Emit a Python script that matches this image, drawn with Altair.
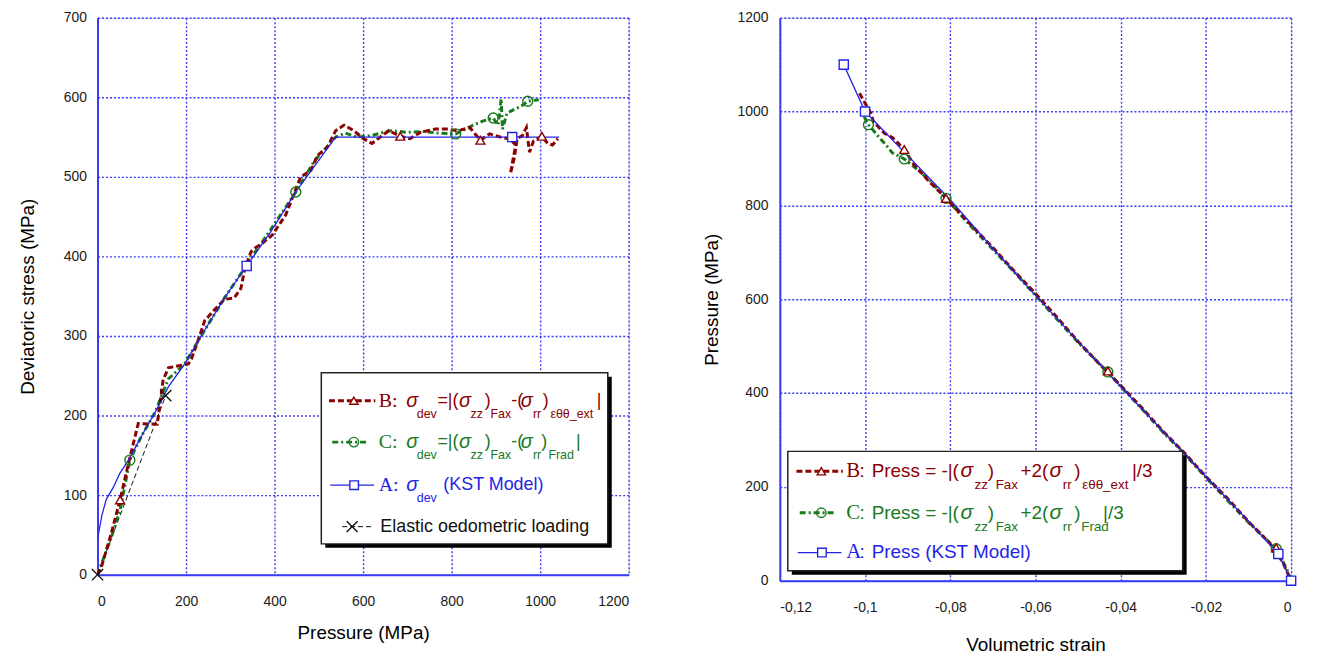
import altair as alt
import pandas as pd

# ---------------- LEFT PANEL DATA : Pressure (MPa) vs Deviatoric stress (MPa) -------------
B_left_p = [0, 10, 30, 51, 70, 81, 92, 135, 148, 160, 205, 212, 227, 242, 264, 287, 309, 324, 333,
            347, 354, 369, 395, 425, 459, 482, 497, 519, 538, 557, 579, 601, 620, 658, 684, 706,
            730, 763, 789, 815, 841, 865, 886, 916, 930, 945, 938, 933, 942, 948, 960, 969, 976,
            985, 1004, 1017, 1028, 1040]
B_left_dev = [0, 12, 50, 94, 140, 165, 190, 189, 244, 260, 265, 271, 294, 319, 333, 346, 348, 360, 385,
              406, 410, 415, 427, 452, 500, 508, 527, 537, 558, 565, 558, 548, 542, 558, 551, 548,
              556, 560, 560, 558, 562, 546, 554, 549, 548, 540, 520, 504, 525, 548, 552, 562, 531,
              545, 551, 542, 540, 548]
B_left_mark_p = [51, 684, 865, 1004]
B_left_mark_dev = [94, 551, 546, 551]

C_left_p = [0, 10, 30, 51, 73, 100, 130, 160, 197, 234, 287, 332, 337, 388, 448, 490, 538, 560, 586,
            620, 661, 700, 736, 770, 809, 849, 870, 894, 905, 912, 915, 925, 942, 955, 972, 997]
C_left_dev = [0, 15, 45, 81, 144, 175, 204, 246, 265, 300, 348, 385, 390, 431, 481, 520, 550, 555, 550,
              552, 558, 556, 557, 555, 554, 565, 570, 574, 565, 598, 560, 580, 585, 588, 595, 597]
C_left_mark_p = [73, 448, 809, 894, 972]
C_left_mark_dev = [144, 481, 554, 574, 595]

A_left_p = [0, 10, 20, 36, 50, 70, 100, 130, 160, 197, 234, 287, 337, 390, 448, 538, 937, 1043]
A_left_dev = [45, 75, 95, 110, 127, 144, 175, 204, 236, 265, 300, 348, 388, 430, 481, 550, 550, 550]
A_left_mark_p = [337, 937]
A_left_mark_dev = [388, 550]

E_left_p = [0, 154]
E_left_dev = [0, 225]

# ---------------- RIGHT PANEL DATA : Volumetric strain vs Pressure (MPa) -------------
A_right_eps = [-0.105, -0.1, -0.09, -0.08, -0.07, -0.06, -0.05, -0.04, -0.03, -0.02, -0.01, -0.003, 0]
A_right_p = [1100, 1000, 906, 812, 708, 608, 510, 414, 318, 222, 127, 57, 0]
A_right_mark_eps = [-0.105, -0.1, -0.003, 0]
A_right_mark_p = [1100, 1000, 57, 0]

B_right_eps = [-0.1013, -0.1002, -0.0986, -0.098, -0.0955, -0.0936, -0.0908, -0.0885, -0.0854, -0.081,
               -0.075, -0.07, -0.065, -0.06, -0.055, -0.05, -0.045, -0.04, -0.035, -0.03, -0.025,
               -0.02, -0.015, -0.01, -0.005, -0.002, 0]
B_right_p = [1039, 1021, 996, 978, 954, 945, 919, 887, 855, 815,
             757, 710, 660, 612, 562, 510, 462, 416, 368, 318, 272,
             222, 176, 126, 80, 40, 0]
B_right_mark_eps = [-0.0908, -0.081, -0.043, -0.0035]
B_right_mark_p = [919, 815, 447, 70]

C_right_eps = [-0.1002, -0.0992, -0.0978, -0.0967, -0.0951, -0.0936, -0.0908, -0.0877, -0.085, -0.081,
               -0.075, -0.07, -0.065, -0.06, -0.055, -0.05, -0.043, -0.04, -0.035, -0.03, -0.025,
               -0.02, -0.015, -0.01, -0.0035, -0.001, 0]
C_right_p = [989, 972, 957, 945, 929, 912, 899, 876, 855, 815,
             754, 706, 658, 608, 558, 508, 445, 414, 366, 316, 270,
             220, 172, 124, 68, 25, 0]
C_right_mark_eps = [-0.0992, -0.0908, -0.081, -0.043, -0.0035]
C_right_mark_p = [972, 899, 815, 445, 68]

# ---------------- styles ----------------
RED = "#8b0000"
GREEN = "#187a1c"
BLUE = "#2424e6"
GRID = "#3b3bf5"
FONT = "Liberation Sans"
SERIF = "Liberation Serif"


def frame(xs, ys):
    return pd.DataFrame({"x": xs, "y": ys, "i": list(range(len(xs)))})


def line(d, xe, ye, color, width, dash=None):
    kw = dict(color=color, strokeWidth=width, clip=True)
    if dash:
        kw["strokeDash"] = dash
    return alt.Chart(d).mark_line(**kw).encode(x=xe, y=ye, order="i:Q")


def marks(d, xe, ye, shape, color, size, fill=None):
    kw = dict(shape=shape, size=size, stroke=color, strokeWidth=1.4, opacity=1)
    if fill:
        kw.update(filled=True, fill=fill)
    else:
        kw.update(filled=False)
    return alt.Chart(d).mark_point(**kw).encode(x=xe, y=ye)


ONE = alt.Data(values=[{"k": 0}])


def txt(t, x, y, color, size, font=FONT, style="normal"):
    return alt.Chart(ONE).mark_text(align="left", baseline="middle", font=font, fontSize=size,
                                    color=color, fontStyle=style).encode(
        x=alt.value(x), y=alt.value(y), text=alt.value(t))


def seg(x1, x2, y, color, width, dash=None):
    kw = dict(color=color, strokeWidth=width)
    if dash:
        kw["strokeDash"] = dash
    return alt.Chart(ONE).mark_rule(**kw).encode(x=alt.value(x1), x2=alt.value(x2), y=alt.value(y))


def sym(x, y, shape, color, size, fill=None):
    kw = dict(shape=shape, size=size, stroke=color, strokeWidth=1.4, opacity=1)
    if fill:
        kw.update(filled=True, fill=fill)
    else:
        kw.update(filled=False)
    return alt.Chart(ONE).mark_point(**kw).encode(x=alt.value(x), y=alt.value(y))


def box(x1, x2, y1, y2):
    shadow = alt.Chart(ONE).mark_rect(fill="black").encode(
        x=alt.value(x1 + 4), x2=alt.value(x2 + 4), y=alt.value(y1 + 4), y2=alt.value(y2 + 4))
    face = alt.Chart(ONE).mark_rect(fill="white", stroke="#222222", strokeWidth=1.5).encode(
        x=alt.value(x1), x2=alt.value(x2), y=alt.value(y1), y2=alt.value(y2))
    return [shadow, face]


XSHAPE = "M-1,-1L1,1M-1,1L1,-1"
B_DASH = [6, 3]
C_DASH = [6, 3, 2, 3]

axis_common = dict(grid=True, gridColor=GRID, gridDash=[2, 2], gridWidth=1.4,
                   domainColor=GRID, domainWidth=2, ticks=False, tickSize=0,
                   labelFont=FONT, labelFontSize=14, labelColor="#1a1a1a",
                   titleFont=FONT, titleFontSize=19, titleFontWeight="normal", titleColor="#000000")

# ---------------- LEFT PANEL ----------------
xl = alt.X("x:Q", scale=alt.Scale(domain=[0, 1200], nice=False),
           axis=alt.Axis(values=list(range(0, 1201, 200)), format="d", title="Pressure (MPa)",
                         labelPadding=20, titlePadding=15, **axis_common))
yl = alt.Y("y:Q", scale=alt.Scale(domain=[0, 700], nice=False),
           axis=alt.Axis(values=list(range(0, 701, 100)), format="d", title="Deviatoric stress (MPa)",
                         labelPadding=11, titlePadding=26, **axis_common))

left_layers = [
    line(frame(E_left_p, E_left_dev), xl, yl, "#111111", 1, [5, 3]),
    line(frame(C_left_p, C_left_dev), xl, yl, GREEN, 3, C_DASH),
    line(frame(B_left_p, B_left_dev), xl, yl, RED, 3, B_DASH),
    line(frame(A_left_p, A_left_dev), xl, yl, BLUE, 1.3),
    marks(frame(E_left_p, E_left_dev), xl, yl, XSHAPE, "#111111", 130),
    marks(frame(C_left_mark_p, C_left_mark_dev), xl, yl, "circle", GREEN, 100),
    marks(frame(B_left_mark_p, B_left_mark_dev), xl, yl, "triangle-up", RED, 80, "white"),
    marks(frame(A_left_mark_p, A_left_mark_dev), xl, yl, "square", BLUE, 85, "white"),
]

# legend (left)
L = []
L += box(225, 513, 357, 529)
r1, r2, r3, r4 = 385, 426.7, 470, 511.7
S = 13  # subscript drop
MS, SS, GS = 18, 12.5, 20
L += [seg(232.7, 279.3, r1, RED, 3, B_DASH), sym(257.7, r1, "triangle-up", RED, 70, "white"),
      seg(236, 272.7, r2, GREEN, 3, C_DASH), sym(257.7, r2, "circle", GREEN, 90),
      seg(234, 278, r3, BLUE, 1.3), sym(258, r3, "square", BLUE, 75, "white"),
      seg(246, 276, r4, "#111111", 1, [5, 3]), sym(256, r4, XSHAPE, "#111111", 120)]
row1 = [("B:", 282.7, 0, SERIF, GS, "normal"), ("σ", 310.3, 0, FONT, GS, "italic"),
        ("dev", 321, S, FONT, SS, "normal"), ("=|(", 341.7, 0, FONT, MS, "normal"),
        ("σ", 363.5, 0, FONT, GS, "italic"), ("zz", 375, S, FONT, SS, "normal"),
        (")", 389.3, 0, FONT, MS, "normal"), ("Fax", 395, S, FONT, SS, "normal"),
        ("-(", 416, 0, FONT, MS, "normal"), ("σ", 425.5, 0, FONT, GS, "italic"),
        ("rr", 437.7, S, FONT, SS, "normal"), (")", 447.7, 0, FONT, MS, "normal"),
        ("εθθ_ext", 455.3, S, FONT, SS, "normal"), ("|", 502, 0, FONT, MS, "normal")]
row2 = [("C:", 282.7, 0, SERIF, GS, "normal"), ("σ", 310.3, 0, FONT, GS, "italic"),
        ("dev", 321, S, FONT, SS, "normal"), ("=|(", 341.7, 0, FONT, MS, "normal"),
        ("σ", 363.5, 0, FONT, GS, "italic"), ("zz", 375, S, FONT, SS, "normal"),
        (")", 389.3, 0, FONT, MS, "normal"), ("Fax", 395, S, FONT, SS, "normal"),
        ("-(", 416, 0, FONT, MS, "normal"), ("σ", 425.5, 0, FONT, GS, "italic"),
        ("rr", 437.7, S, FONT, SS, "normal"), (")", 446, 0, FONT, MS, "normal"),
        ("Frad", 453.3, S, FONT, SS, "normal"), ("|", 481, 0, FONT, MS, "normal")]
row3 = [("A:", 282.7, 0, SERIF, GS, "normal"), ("σ", 310.3, 0, FONT, GS, "italic"),
        ("dev", 321, S, FONT, SS, "normal"), ("(KST Model)", 347.7, 0, FONT, MS, "normal")]
for rows, yy, col in [(row1, r1, RED), (row2, r2, GREEN), (row3, r3, BLUE)]:
    for t, xx, dy, f, fs, st in rows:
        L.append(txt(t, xx, yy + dy, col, fs, f, st))
L.append(txt("Elastic oedometric loading", 284.3, r4, "#111111", MS))

left = alt.layer(*left_layers, *L).properties(width=534, height=560)

# ---------------- RIGHT PANEL ----------------
xr = alt.X("x:Q", scale=alt.Scale(domain=[-0.12, 0], nice=False),
           axis=alt.Axis(values=[-0.12, -0.1, -0.08, -0.06, -0.04, -0.02, 0],
                         labelExpr="replace(replace(format(datum.value, '.2~f'), '.', ','), '\u2212', '-')",
                         title="Volumetric strain", labelPadding=20, titlePadding=21, **axis_common))
yr = alt.Y("y:Q", scale=alt.Scale(domain=[0, 1200], nice=False),
           axis=alt.Axis(values=list(range(0, 1201, 200)), format="d", title="Pressure (MPa)",
                         labelPadding=12, titlePadding=16, **axis_common))

right_layers = [
    line(frame(C_right_eps, C_right_p), xr, yr, GREEN, 3, C_DASH),
    line(frame(B_right_eps, B_right_p), xr, yr, RED, 3, B_DASH),
    line(frame(A_right_eps, A_right_p), xr, yr, BLUE, 1.3),
    marks(frame(C_right_mark_eps, C_right_mark_p), xr, yr, "circle", GREEN, 100),
    marks(frame(B_right_mark_eps, B_right_mark_p), xr, yr, "triangle-up", RED, 80, "white"),
    marks(frame(A_right_mark_eps, A_right_mark_p), xr, yr, "square", BLUE, 85, "white"),
]

R = []
R += box(8, 405, 436, 556)
q1, q2, q3 = 456, 497.7, 537.7
RS, RSS, RGS, RB = 19, 13.5, 21, 21
T = 14
R += [seg(16.7, 63.3, q1, RED, 3, B_DASH), sym(41.7, q1, "triangle-up", RED, 70, "white"),
      seg(20, 56.7, q2, GREEN, 3, C_DASH), sym(41.7, q2, "circle", GREEN, 90),
      seg(18, 62, q3, BLUE, 1.3), sym(42.3, q3, "square", BLUE, 75, "white")]
rrow1 = [("B", 66.7, 0, SERIF, RB, "normal"), (":", 80, 0, FONT, RS, "normal"),
         ("Press = -|(", 92.3, 0, FONT, RS, "normal"),
         ("σ", 181.7, 0, FONT, RGS, "italic"), ("zz", 195.7, T, FONT, RSS, "normal"),
         (")", 209, 0, FONT, RS, "normal"), ("Fax", 217, T, FONT, RSS, "normal"),
         ("+2(", 242, 0, FONT, RS, "normal"), ("σ", 271, 0, FONT, RGS, "italic"),
         ("rr", 284.5, T, FONT, RSS, "normal"), (")", 296, 0, FONT, RS, "normal"),
         ("εθθ_ext", 304, T, FONT, RSS, "normal"), ("|/3", 354, 0, FONT, RS, "normal")]
rrow2 = [("C", 66.7, 0, SERIF, RB, "normal"), (":", 80, 0, FONT, RS, "normal"),
         ("Press = -|(", 92.3, 0, FONT, RS, "normal"),
         ("σ", 181.7, 0, FONT, RGS, "italic"), ("zz", 195.7, T, FONT, RSS, "normal"),
         (")", 209, 0, FONT, RS, "normal"), ("Fax", 217, T, FONT, RSS, "normal"),
         ("+2(", 242, 0, FONT, RS, "normal"), ("σ", 271, 0, FONT, RGS, "italic"),
         ("rr", 284.5, T, FONT, RSS, "normal"), (")", 296, 0, FONT, RS, "normal"),
         ("Frad", 303, T, FONT, RSS, "normal"), ("|/3", 325, 0, FONT, RS, "normal")]
rrow3 = [("A", 66.7, 0, SERIF, RB, "normal"), (":", 80, 0, FONT, RS, "normal"),
         ("Press (KST Model)", 92.3, 0, FONT, RS, "normal")]
for rows, yy, col in [(rrow1, q1, RED), (rrow2, q2, GREEN), (rrow3, q3, BLUE)]:
    for t, xx, dy, f, fs, st in rows:
        R.append(txt(t, xx, yy + dy, col, fs, f, st))

right = alt.layer(*right_layers, *R).properties(width=514, height=566)

chart = alt.hconcat(left, right, spacing=152, bounds="flush").properties(
    padding={"left": 10, "top": 0, "right": 10, "bottom": 5}
).configure_view(stroke=GRID, strokeWidth=2).configure(background="white")

chart.save("out.html", embed_options={"renderer": "svg", "actions": False})
